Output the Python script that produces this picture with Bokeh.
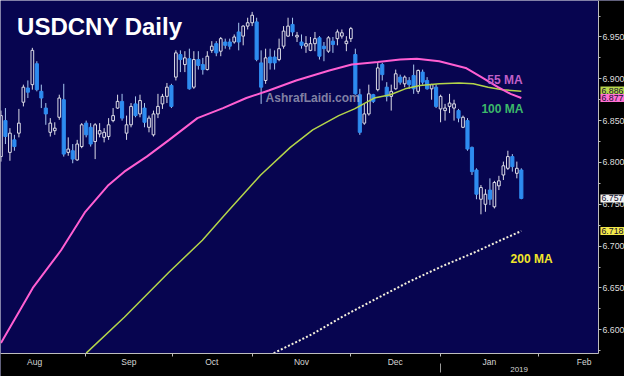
from bokeh.plotting import figure
from bokeh.models import (Range1d, LinearAxis, FixedTicker, Label, ColumnDataSource,
                          PrintfTickFormatter, BoxAnnotation)
from bokeh.embed import file_html
from bokeh.resources import INLINE

# ---- daily candles (trading-day index) ----
opens = [6.807, 6.850, 6.812, 6.827, 6.835, 6.872, 6.889, 6.893, 6.918, 6.885,
         6.865, 6.836, 6.838, 6.854, 6.875, 6.812, 6.814, 6.803, 6.819, 6.847,
         6.842, 6.825, 6.834, 6.830, 6.831, 6.850, 6.865, 6.873, 6.835, 6.845,
         6.870, 6.858, 6.865, 6.842, 6.833, 6.858, 6.870, 6.879, 6.892, 6.902,
         6.929, 6.917, 6.924, 6.890, 6.923, 6.917, 6.911, 6.934, 6.942, 6.933,
         6.944, 6.944, 6.944, 6.956, 6.951, 6.963, 6.967, 6.968, 6.919, 6.898,
         6.926, 6.926, 6.923, 6.939, 6.951, 6.965, 6.950, 6.944, 6.939, 6.934,
         6.942, 6.949, 6.939, 6.933, 6.945, 6.948, 6.951, 6.942, 6.948, 6.929,
         6.881, 6.847, 6.858, 6.881, 6.887, 6.917, 6.890, 6.879, 6.888, 6.902,
         6.894, 6.898, 6.904, 6.885, 6.908, 6.898, 6.888, 6.890, 6.864, 6.862,
         6.867, 6.865, 6.862, 6.842, 6.850, 6.818, 6.791, 6.756, 6.750, 6.767,
         6.747, 6.772, 6.785, 6.793, 6.807, 6.787, 6.791]
highs = [6.862, 6.865, 6.841, 6.833, 6.864, 6.893, 6.898, 6.937, 6.921, 6.893,
         6.871, 6.853, 6.848, 6.881, 6.894, 6.830, 6.822, 6.827, 6.847, 6.850,
         6.847, 6.847, 6.847, 6.841, 6.853, 6.865, 6.881, 6.882, 6.856, 6.871,
         6.879, 6.881, 6.871, 6.856, 6.862, 6.882, 6.882, 6.895, 6.894, 6.934,
         6.934, 6.933, 6.936, 6.933, 6.933, 6.925, 6.933, 6.945, 6.945, 6.950,
         6.948, 6.948, 6.953, 6.967, 6.964, 6.973, 6.980, 6.973, 6.934, 6.936,
         6.936, 6.934, 6.948, 6.963, 6.973, 6.973, 6.956, 6.953, 6.951, 6.950,
         6.956, 6.951, 6.944, 6.951, 6.950, 6.959, 6.959, 6.951, 6.962, 6.936,
         6.888, 6.870, 6.893, 6.882, 6.919, 6.919, 6.896, 6.893, 6.911, 6.905,
         6.904, 6.902, 6.917, 6.911, 6.911, 6.902, 6.894, 6.893, 6.881, 6.870,
         6.882, 6.875, 6.864, 6.856, 6.853, 6.819, 6.793, 6.773, 6.768, 6.781,
         6.778, 6.784, 6.801, 6.814, 6.810, 6.801, 6.793]
lows = [6.801, 6.822, 6.802, 6.814, 6.830, 6.867, 6.877, 6.887, 6.885, 6.865,
        6.845, 6.831, 6.833, 6.851, 6.807, 6.808, 6.799, 6.802, 6.817, 6.830,
        6.819, 6.804, 6.830, 6.824, 6.827, 6.848, 6.864, 6.850, 6.827, 6.842,
        6.854, 6.854, 6.842, 6.836, 6.831, 6.853, 6.864, 6.871, 6.865, 6.898,
        6.908, 6.908, 6.887, 6.888, 6.911, 6.905, 6.910, 6.931, 6.927, 6.927,
        6.936, 6.935, 6.942, 6.934, 6.940, 6.959, 6.963, 6.921, 6.870, 6.894,
        6.911, 6.911, 6.921, 6.936, 6.950, 6.951, 6.944, 6.936, 6.931, 6.933,
        6.933, 6.923, 6.921, 6.931, 6.931, 6.940, 6.948, 6.933, 6.944, 6.881,
        6.833, 6.845, 6.856, 6.871, 6.885, 6.898, 6.873, 6.862, 6.887, 6.893,
        6.890, 6.888, 6.882, 6.882, 6.893, 6.887, 6.875, 6.865, 6.848, 6.850,
        6.859, 6.850, 6.848, 6.841, 6.814, 6.785, 6.756, 6.738, 6.741, 6.749,
        6.745, 6.767, 6.779, 6.791, 6.789, 6.781, 6.756]
closes = [6.856, 6.831, 6.835, 6.819, 6.847, 6.890, 6.884, 6.934, 6.887, 6.877,
          6.858, 6.847, 6.841, 6.877, 6.810, 6.816, 6.804, 6.822, 6.845, 6.833,
          6.822, 6.845, 6.838, 6.836, 6.845, 6.856, 6.873, 6.853, 6.845, 6.867,
          6.856, 6.874, 6.848, 6.853, 6.858, 6.867, 6.879, 6.890, 6.867, 6.931,
          6.923, 6.925, 6.888, 6.923, 6.916, 6.911, 6.927, 6.939, 6.931, 6.948,
          6.940, 6.939, 6.950, 6.944, 6.963, 6.967, 6.976, 6.923, 6.890, 6.925,
          6.919, 6.919, 6.936, 6.957, 6.963, 6.956, 6.952, 6.940, 6.942, 6.942,
          6.948, 6.927, 6.936, 6.949, 6.941, 6.956, 6.955, 6.945, 6.960, 6.882,
          6.836, 6.858, 6.882, 6.873, 6.913, 6.905, 6.879, 6.885, 6.906, 6.896,
          6.902, 6.893, 6.888, 6.910, 6.896, 6.888, 6.893, 6.867, 6.879, 6.865,
          6.871, 6.870, 6.853, 6.854, 6.816, 6.789, 6.762, 6.770, 6.762, 6.756,
          6.776, 6.778, 6.796, 6.807, 6.795, 6.793, 6.757]
day = list(range(len(closes)))

# ---- moving averages ----
ma55_day = [0, 7.1, 13.4, 18.8, 23.8, 27.5, 32.5, 37.5, 43.8, 49.5, 54.7, 59.7,
            65.8, 73.2, 78.2, 84.0, 89.0, 92.7, 97.7, 103.6, 107.1, 110.8, 113.6, 116]
ma55_val = [6.584, 6.650, 6.695, 6.741, 6.772, 6.789, 6.807, 6.827, 6.853, 6.865, 6.877, 6.886,
            6.898, 6.910, 6.917, 6.920, 6.923, 6.924, 6.921, 6.913, 6.902, 6.890, 6.882, 6.877]
ma100_day = [19.0, 27.5, 37.5, 44.9, 50.5, 57.9, 64.5, 69.5, 75.3, 78.8, 83.2,
             86.8, 90.1, 93.4, 97.7, 102.1, 105.3, 108.6, 111.8, 116]
ma100_val = [6.572, 6.615, 6.669, 6.707, 6.741, 6.785, 6.818, 6.839, 6.856, 6.864, 6.877,
             6.881, 6.888, 6.892, 6.894, 6.895, 6.894, 6.890, 6.887, 6.885]
ma200_day = [60.8, 69.5, 76.6, 84.0, 91.2, 98.4, 105.8, 111.4, 116]
ma200_val = [6.572, 6.595, 6.617, 6.638, 6.658, 6.676, 6.693, 6.707, 6.718]

# ---- axis ticks ----
month_names = ["Aug", "Sep", "Oct", "Nov", "Dec", "Jan", "Feb"]
month_centers = [7.5, 28.5, 47.0, 67.0, 87.9, 108.9, 130.0]
month_bounds = [18.8, 38.2, 56.0, 77.9, 97.9, 119.9]
year_label = "2019"
year_center = 115.5
price_ticks = [6.60, 6.65, 6.70, 6.75, 6.80, 6.85, 6.90, 6.95]
price_minor = [6.575, 6.625, 6.675, 6.725, 6.775, 6.825, 6.875, 6.925, 6.975]

# ---- last-value tags ----
tag_vals = [6.886, 6.877, 6.757, 6.718]
tag_text = ["6.886", "6.877", "6.757", "6.718"]
tag_fill = ["#b8d64c", "#ff6fd2", "#f2f2f2", "#f3e84a"]

# ---- layout: plot area ends at these data values; beyond them are the black axis strips
X_END = 133.2
Y_START = 6.5713
Y_YEAR_SEP = 6.5601
Y_YEAR_TEXT = 6.5528

BG = "#070550"
FONT = "Liberation Sans"
UP_LINE = "#dcdce6"
DOWN = "#2e8cf0"
AXC = "#bdbdbd"

p = figure(width=624, height=376, output_backend="svg", toolbar_location=None,
           x_range=Range1d(-0.1, 139.0), y_range=Range1d(6.5441, 6.9936),
           x_axis_location=None, y_axis_location=None,
           min_border_left=0, min_border_top=0, min_border_right=0, min_border_bottom=0)
p.background_fill_color = BG
p.border_fill_color = "black"
p.outline_line_color = None
p.xgrid.visible = False
p.ygrid.visible = False

# black axis strips
p.add_layout(BoxAnnotation(left=X_END, fill_color="black", fill_alpha=1.0,
                           line_color=None, level="underlay"))
p.add_layout(BoxAnnotation(top=Y_START, fill_color="black", fill_alpha=1.0,
                           line_color=None, level="underlay"))

# axes
yax = LinearAxis(ticker=FixedTicker(ticks=price_ticks, minor_ticks=price_minor),
                 formatter=PrintfTickFormatter(format="%.3f"),
                 fixed_location=X_END, bounds=(Y_START, 6.9936))
yax.axis_line_color = AXC
yax.major_tick_line_color = AXC
yax.minor_tick_line_color = AXC
yax.major_tick_in = 0
yax.major_tick_out = 3
yax.minor_tick_in = 0
yax.minor_tick_out = 2
yax.major_label_standoff = 1
yax.major_label_text_color = "#dedede"
yax.major_label_text_font = FONT
yax.major_label_text_font_size = "8.8px"
p.add_layout(yax, "right")

xax = LinearAxis(ticker=FixedTicker(ticks=month_centers, minor_ticks=month_bounds),
                 major_label_overrides={c: n for c, n in zip(month_centers, month_names)},
                 fixed_location=Y_START, bounds=(-0.1, X_END))
xax.axis_line_color = AXC
xax.major_tick_line_color = None
xax.major_tick_out = 0
xax.major_tick_in = 0
xax.minor_tick_line_color = AXC
xax.minor_tick_in = 0
xax.minor_tick_out = 3
xax.major_label_standoff = 0
xax.major_label_text_color = "#d6d6d6"
xax.major_label_text_font = FONT
xax.major_label_text_font_size = "8.5px"
p.add_layout(xax, "below")

# year separator (short tick below the month row)
sep = LinearAxis(ticker=FixedTicker(ticks=[], minor_ticks=[month_bounds[4]]),
                 fixed_location=Y_YEAR_SEP)
sep.axis_line_color = None
sep.major_tick_line_color = None
sep.minor_tick_line_color = "#9a9a9a"
sep.minor_tick_in = 0
sep.minor_tick_out = 9
sep.major_label_text_font_size = "0px"
p.add_layout(sep, "below")

p.add_layout(Label(x=year_center, y=Y_YEAR_TEXT, text=year_label, text_align="center",
                   text_baseline="alphabetic", text_color="#d6d6d6", text_font=FONT,
                   text_font_size="8px"))

# candles
up = [c >= o for o, c in zip(opens, closes)]
src_up = ColumnDataSource(dict(
    x=[d for d, u in zip(day, up) if u],
    o=[v for v, u in zip(opens, up) if u], c=[v for v, u in zip(closes, up) if u],
    h=[v for v, u in zip(highs, up) if u], l=[v for v, u in zip(lows, up) if u]))
src_dn = ColumnDataSource(dict(
    x=[d for d, u in zip(day, up) if not u],
    o=[v for v, u in zip(opens, up) if not u], c=[v for v, u in zip(closes, up) if not u],
    h=[v for v, u in zip(highs, up) if not u], l=[v for v, u in zip(lows, up) if not u]))

p.segment(x0="x", y0="h", x1="x", y1="l", source=src_up, line_color=UP_LINE, line_width=1)
p.segment(x0="x", y0="h", x1="x", y1="l", source=src_dn, line_color="#a9c8f0", line_width=1)
p.vbar(x="x", width=0.6, top="c", bottom="o", source=src_up,
       fill_color=BG, line_color=UP_LINE, line_width=1)
p.vbar(x="x", width=0.7, top="o", bottom="c", source=src_dn,
       fill_color=DOWN, line_color=DOWN, line_width=1)

# moving averages
p.line(ma200_day, ma200_val, line_color="#f4f0dc", line_width=2, line_dash="2 2")
p.line(ma100_day, ma100_val, line_color="#b4d54a", line_width=1.5)
p.line(ma55_day, ma55_val, line_color="#ff5fd2", line_width=2)

# texts
def txt(x, y, t, color, size, alpha=1.0):
    p.add_layout(Label(x=x, y=y, text=t, text_color=color, text_alpha=alpha,
                       text_baseline="alphabetic", text_font=FONT,
                       text_font_size=size, text_font_style="bold"))

txt(3.6, 6.962, "USDCNY Daily", "white", "24px")
txt(59.0, 6.877, "AshrafLaidi.com", "#c8c8d4", "12px", 0.65)
txt(108.4, 6.898, "55 MA", "#c060c8", "12px")
txt(107.1, 6.864, "100 MA", "#3cb86a", "12px")
txt(113.6, 6.684, "200 MA", "#f2e62a", "12px")

for v, t, f in zip(tag_vals, tag_text, tag_fill):
    p.add_layout(Label(x=X_END, y=v, text=t, x_offset=2, text_baseline="middle",
                       text_align="left", text_color="#101030", text_font=FONT,
                       text_font_size="8.8px", background_fill_color=f, padding=1))

open("out.html", "w").write(file_html(p, INLINE))
